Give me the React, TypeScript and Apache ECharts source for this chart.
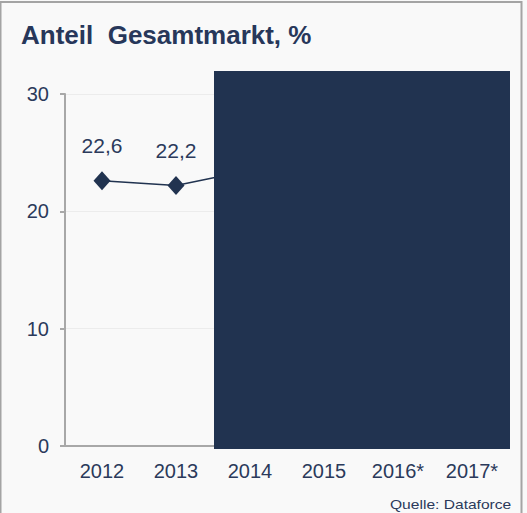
import React, { useEffect, useRef } from "react";
import * as echarts from "echarts";

const categories = ["2012", "2013", "2014", "2015", "2016*", "2017*"];
const shareValues: (number | null)[] = [22.6, 22.2, 23.5, null, null, null];
const yTicks = { min: 0, max: 30, interval: 10 };
const titleText = "Anteil  Gesamtmarkt, %";
const sourceText = "Quelle: Dataforce";

const FONT = "'Liberation Sans', Arial, sans-serif";
const TEXT_COLOR = "#2b3a5b";
const NAVY = "#213350";

export default function App() {
  const ref = useRef<HTMLDivElement>(null);
  useEffect(() => {
    if (!ref.current) return;
    const chart = echarts.init(ref.current, undefined, { renderer: "svg" });
    chart.setOption({
      animation: false,
      backgroundColor: "#f9f9f9",
      textStyle: { fontFamily: FONT },
      title: {
        text: titleText,
        left: 21,
        top: 22,
        padding: 0,
        textStyle: { fontFamily: FONT, fontSize: 26, fontWeight: "bold", color: "#27375a" },
      },
      grid: { left: 65, right: 18, top: 94, bottom: 67, containLabel: false },
      xAxis: {
        type: "category",
        data: categories,
        boundaryGap: true,
        axisLine: { show: true, lineStyle: { color: "#a8a8a8", width: 2 } },
        axisTick: { show: false },
        axisLabel: { fontFamily: FONT, fontSize: 20, color: TEXT_COLOR, margin: 15 },
        splitLine: { show: false },
      },
      yAxis: {
        type: "value",
        min: yTicks.min,
        max: yTicks.max,
        interval: yTicks.interval,
        axisLine: { show: true, lineStyle: { color: "#a8a8a8", width: 2 } },
        axisTick: { show: true, length: 5, lineStyle: { color: "#a8a8a8", width: 2 } },
        axisLabel: { fontFamily: FONT, fontSize: 20, color: TEXT_COLOR, margin: 16 },
        splitLine: { show: true, lineStyle: { color: "#ececec", width: 1 } },
      },
      series: [
        {
          type: "line",
          data: shareValues,
          connectNulls: false,
          symbol: "diamond",
          symbolSize: [17, 19],
          itemStyle: { color: NAVY },
          lineStyle: { color: NAVY, width: 1.5 },
          label: {
            show: true,
            position: "top",
            distance: 15,
            fontFamily: FONT,
            fontSize: 21,
            color: TEXT_COLOR,
            formatter: (p: any) => String(p.value).replace(".", ","),
          },
        },
      ],
      graphic: [
        {
          type: "rect",
          z: 100,
          shape: { x: 214, y: 71, width: 296, height: 378 },
          style: { fill: NAVY },
        },
        {
          type: "rect",
          z: 101,
          shape: { x: 0.5, y: 2, width: 521, height: 530 },
          style: { fill: "none", stroke: "#a4a4a4", lineWidth: 2 },
        },
        {
          type: "text",
          z: 101,
          x: 390,
          y: 498,
          scaleX: 1.2,
          style: { text: sourceText, fontFamily: FONT, fontSize: 13, fill: TEXT_COLOR },
        },
      ],
    });
    return () => chart.dispose();
  }, []);
  return (
    <div
      ref={ref}
      style={{ position: "fixed", left: 0, top: 0, width: 527, height: 513 }}
    />
  );
}
